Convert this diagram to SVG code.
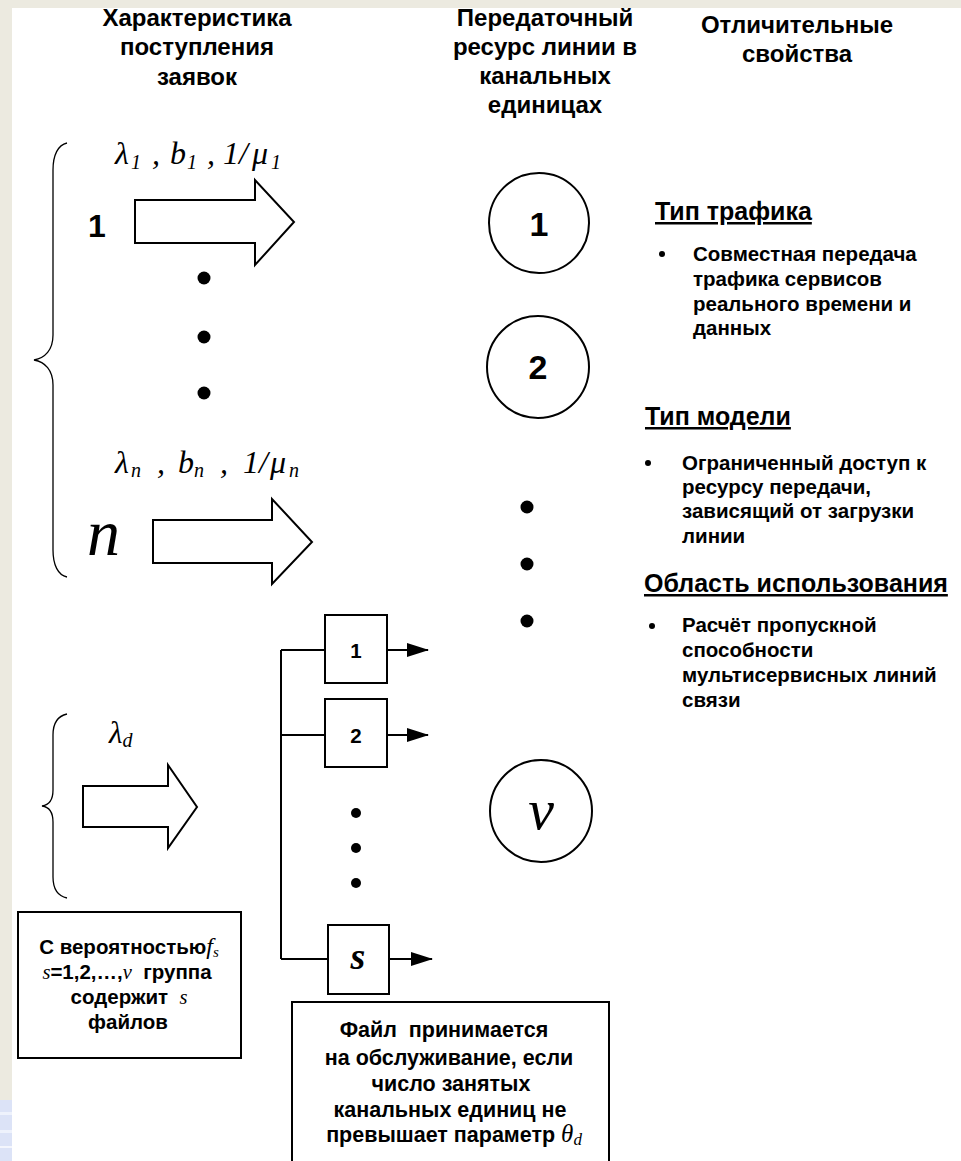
<svg xmlns="http://www.w3.org/2000/svg" width="961" height="1161" viewBox="0 0 961 1161">
<style>
.sans{font-family:"Liberation Sans",Arial,sans-serif;font-weight:bold;fill:#000}
.hdr{font-size:24px;text-anchor:middle}
.mid{text-anchor:middle}
.math{font-family:"Liberation Serif","Times New Roman",serif;font-style:italic;font-weight:normal;fill:#000}
.m30{font-size:32px}
.sub{font-size:20px}
.b20{font-size:20.5px}
.b21{font-size:21.5px}
.ttl{font-size:25px;text-decoration:underline}
.ln{fill:none;stroke:#000;stroke-width:2}
.br{fill:none;stroke:#000;stroke-width:1.3}
.dot{fill:#000}
</style>
<defs>
<marker id="ah" markerUnits="userSpaceOnUse" markerWidth="22" markerHeight="14" refX="21" refY="7" orient="auto">
<path d="M0,0 L22,7 L0,14 Z" fill="#000"/>
</marker>
</defs>
<rect x="0" y="0" width="961" height="1161" fill="#fff"/>
<rect x="0" y="0" width="961" height="8" fill="#ECEAE0"/>
<rect x="0" y="0" width="12" height="1100" fill="#ECEAE0"/>
<rect x="0" y="1100" width="12" height="61" fill="#DCE3F7"/>
<rect x="0" y="1112" width="12" height="3" fill="#EEF2FC"/>
<rect x="0" y="1130" width="12" height="3" fill="#EEF2FC"/>
<rect x="0" y="1146" width="12" height="2" fill="#F4F6FD"/>

<g id="headers">
<text class="sans hdr" x="197" y="26">Характеристика</text>
<text class="sans hdr" x="197" y="55">поступления</text>
<text class="sans hdr" x="197" y="85">заявок</text>
<text class="sans hdr" x="545" y="26">Передаточный</text>
<text class="sans hdr" x="545" y="55">ресурс линии в</text>
<text class="sans hdr" x="545" y="84">канальных</text>
<text class="sans hdr" x="545" y="113">единицах</text>
<text class="sans hdr" x="797" y="33">Отличительные</text>
<text class="sans hdr" x="797" y="62">свойства</text>
</g>

<g id="braces">
<path class="br" d="M67,143 C58,145 53,155 53,170 L53,335 C53,350 45,358 34,360 C45,362 53,370 53,385 L53,550 C53,565 58,575 67,577"/>
<path class="br" d="M67,714 C58,716 53,722 53,735 L53,790 C53,800 49,805 42,806 C49,807 53,812 53,822 L53,877 C53,890 58,896 67,898"/>
</g>

<g id="flow1">
<text class="sans mid" font-size="32" x="97" y="237">1</text>
<text class="math m30" y="164"><tspan x="115">λ</tspan><tspan class="sub" x="131" dy="5">1</tspan><tspan x="152" dy="-5">,</tspan><tspan x="170">b</tspan><tspan class="sub" x="187" dy="5">1</tspan><tspan x="207" dy="-5">,</tspan><tspan x="223">1/</tspan><tspan x="252">μ</tspan><tspan class="sub" x="271" dy="5">1</tspan></text>
<path class="ln" d="M135,200 H255 V180 L294,222 L255,265 V243 H135 Z"/>
</g>

<g id="flowdots">
<circle class="dot" cx="204" cy="278" r="6.5"/>
<circle class="dot" cx="204" cy="337" r="6.5"/>
<circle class="dot" cx="204" cy="393" r="6.5"/>
</g>

<g id="flown">
<text class="math m30" y="473"><tspan x="115">λ</tspan><tspan class="sub" x="131" dy="4">n</tspan><tspan x="157" dy="-4">,</tspan><tspan x="178">b</tspan><tspan class="sub" x="194" dy="4">n</tspan><tspan x="220" dy="-4">,</tspan><tspan x="243">1/</tspan><tspan x="270">μ</tspan><tspan class="sub" x="289" dy="4">n</tspan></text>
<text class="math" font-size="66" x="87" y="555">n</text>
<path class="ln" d="M153,520 H272 V499 L312,542 L272,584 V563 H153 Z"/>
</g>

<g id="flowd">
<text class="math" font-size="31" x="109" y="743">λ<tspan font-size="20" dy="4">d</tspan></text>
<path class="ln" d="M83,786 H168 V765 L197,807 L168,848 V827 H83 Z"/>
</g>

<g id="channel1">
<circle class="ln" cx="539" cy="223" r="50"/>
<text class="sans mid" font-size="34" x="539" y="236">1</text>
</g>
<g id="channel2">
<circle class="ln" cx="538" cy="367" r="51"/>
<text class="sans mid" font-size="34" x="538" y="379">2</text>
</g>
<g id="channeldots">
<circle class="dot" cx="527" cy="507" r="6.5"/>
<circle class="dot" cx="527" cy="564" r="6.5"/>
<circle class="dot" cx="527" cy="621" r="6.5"/>
</g>
<g id="channelv">
<circle class="ln" cx="541" cy="811" r="51"/>
<text class="math mid" font-size="58" x="541" y="829">v</text>
</g>

<g id="file1">
<rect class="ln" x="325" y="615" width="62" height="68"/>
<text class="sans mid b20" x="356" y="658">1</text>
</g>
<g id="file2">
<rect class="ln" x="325" y="699" width="62" height="68"/>
<text class="sans mid b20" x="356" y="743">2</text>
</g>
<g id="filedots">
<circle class="dot" cx="356" cy="813" r="5"/>
<circle class="dot" cx="356" cy="848" r="5"/>
<circle class="dot" cx="356" cy="883" r="5"/>
</g>
<g id="files">
<rect class="ln" x="328" y="925" width="61" height="69"/>
<text class="math mid" font-size="38" style="font-weight:bold" x="358" y="969">s</text>
</g>

<g id="connectors">
<path class="ln" d="M281,650 V959 M281,650 H325 M281,735 H325 M281,959 H328"/>
<line class="ln" x1="387" y1="650" x2="428" y2="650" marker-end="url(#ah)"/>
<line class="ln" x1="387" y1="735" x2="428" y2="735" marker-end="url(#ah)"/>
<line class="ln" x1="389" y1="959" x2="432" y2="959" marker-end="url(#ah)"/>
</g>

<g id="probbox">
<rect class="ln" x="18" y="912" width="223" height="146"/>
<text class="sans mid b20" x="129" y="954">С вероятностью<tspan class="math" font-size="24">f</tspan><tspan class="math" font-size="15" dy="3">s</tspan></text>
<text class="sans mid b20" x="127" y="979"><tspan class="math">s</tspan>=1,2,…,<tspan class="math">v</tspan>&#160; группа</text>
<text class="sans mid b20" x="129" y="1004">содержит&#160; <tspan class="math">s</tspan></text>
<text class="sans mid b20" x="128" y="1029">файлов</text>
</g>

<g id="admission">
<rect class="ln" x="292" y="1002" width="317" height="170"/>
<text class="sans mid b21" x="444" y="1037">Файл&#160; принимается</text>
<text class="sans mid b21" x="449" y="1065">на обслуживание, если</text>
<text class="sans mid b21" x="451" y="1091">число занятых</text>
<text class="sans mid b21" x="450" y="1117">канальных единиц не</text>
<text class="sans mid b21" x="454" y="1142">превышает параметр <tspan class="math" fill="#555" font-size="25">θ</tspan><tspan class="math" fill="#555" font-size="17" dy="3">d</tspan></text>
</g>

<g id="properties">
<text class="sans ttl" x="655" y="220">Тип трафика</text>
<circle class="dot" cx="662" cy="254" r="3"/>
<text class="sans b20" x="693" y="261">Совместная передача</text>
<text class="sans b20" x="693" y="286">трафика сервисов</text>
<text class="sans b20" x="693" y="311">реального времени и</text>
<text class="sans b20" x="693" y="335">данных</text>

<text class="sans ttl" x="645" y="425">Тип модели</text>
<circle class="dot" cx="648" cy="463" r="3"/>
<text class="sans b20" x="682" y="470">Ограниченный доступ к</text>
<text class="sans b20" x="682" y="494">ресурсу передачи,</text>
<text class="sans b20" x="682" y="518">зависящий от загрузки</text>
<text class="sans b20" x="682" y="543">линии</text>

<text class="sans ttl" x="644" y="592">Область использования</text>
<circle class="dot" cx="652" cy="626" r="3"/>
<text class="sans b20" x="682" y="632">Расчёт пропускной</text>
<text class="sans b20" x="682" y="657">способности</text>
<text class="sans b20" x="682" y="682">мультисервисных линий</text>
<text class="sans b20" x="682" y="707">связи</text>
</g>
</svg>
